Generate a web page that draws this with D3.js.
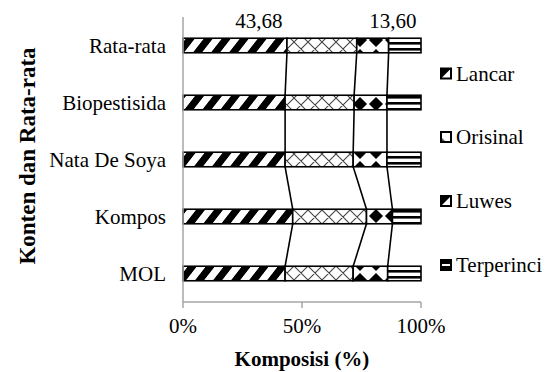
<!DOCTYPE html>
<html><head><meta charset="utf-8">
<script src="https://cdn.jsdelivr.net/npm/d3@7"></script>
<style>body{margin:0;background:#fff}svg{display:block}</style>
</head><body>
<script>
const categories = ["MOL", "Kompos", "Nata De Soya", "Biopestisida", "Rata-rata"];
const seriesNames = ["Lancar", "Orisinal", "Luwes", "Terperinci"];
const lancar     = [42.9, 46.1, 42.9, 42.9, 43.68];
const orisinal   = [28.6, 31.0, 28.6, 29.0, 29.32];
const luwes      = [14.5, 10.9, 14.2, 13.8, 13.40];
const terperinci = [14.0, 12.0, 14.3, 14.3, 13.60];
const xTicks = [0, 50, 100];
const labelledCategory = "Rata-rata";
const labelledSeries = ["Lancar", "Terperinci"];

const FONT = "Liberation Serif, 'Times New Roman', 'DejaVu Serif', serif";
const W = 552, H = 372;
const m = {left: 183, right: 131, top: 17, bottom: 70};
const svg = d3.select("body").append("svg").attr("width", W).attr("height", H)
  .attr("font-family", FONT).style("font-family", FONT);
const defs = svg.append("defs");

// patterns
const p1 = defs.append("pattern").attr("id","pLancar").attr("patternUnits","userSpaceOnUse")
  .attr("width",18).attr("height",18).attr("patternTransform","skewX(-38)");
p1.append("rect").attr("width",18).attr("height",18).attr("fill","#fff");
p1.append("rect").attr("x",0).attr("width",9).attr("height",18).attr("fill","#000");

const p2 = defs.append("pattern").attr("id","pOrisinal").attr("patternUnits","userSpaceOnUse")
  .attr("width",14).attr("height",14);
p2.append("rect").attr("width",14).attr("height",14).attr("fill","#fff");
p2.append("path").attr("d","M0,0L14,14M14,0L0,14M-1,13L1,15M13,-1L15,1M-1,1L1,-1M13,15L15,13")
  .attr("stroke","#444").attr("stroke-width",1.1);

const p3 = defs.append("pattern").attr("id","pLuwes").attr("patternUnits","userSpaceOnUse")
  .attr("width",16).attr("height",16);
p3.append("rect").attr("width",16).attr("height",16).attr("fill","#fff");
p3.append("path").attr("d","M8,1L15,8L8,15L1,8Z").attr("fill","#000");

const p4 = defs.append("pattern").attr("id","pTerperinci").attr("patternUnits","userSpaceOnUse")
  .attr("width",6).attr("height",6);
p4.append("rect").attr("width",6).attr("height",6).attr("fill","#fff");
p4.append("rect").attr("y",0).attr("width",6).attr("height",2.6).attr("fill","#000");

const fills = ["url(#pLancar)","url(#pOrisinal)","url(#pLuwes)","url(#pTerperinci)"];

const rows = categories.map((c,i)=>({cat:c, Lancar:lancar[i], Orisinal:orisinal[i], Luwes:luwes[i], Terperinci:terperinci[i]}));
const stack = d3.stack().keys(seriesNames)(rows);

const x = d3.scaleLinear().domain([0,100]).range([m.left, W - m.right]);
const y = d3.scaleBand().domain(categories.slice().reverse()).range([m.top, H - m.bottom])
  .paddingInner(0.745).paddingOuter(0.3725);

// series lines
const lines = svg.append("g");
stack.slice(0,3).forEach(s=>{
  for(let i=0;i<categories.length-1;i++){
    const lo = s[i], hi = s[i+1];
    lines.append("line")
      .attr("x1", x(lo[1])).attr("y1", y(categories[i]))
      .attr("x2", x(hi[1])).attr("y2", y(categories[i+1]) + y.bandwidth())
      .attr("stroke","#000").attr("stroke-width",1.6);
  }
});

// bars
stack.forEach((s,k)=>{
  svg.append("g").selectAll("rect").data(s).join("rect")
    .attr("x", d=>x(d[0])).attr("y", d=>y(d.data.cat))
    .attr("width", d=>x(d[1])-x(d[0])).attr("height", y.bandwidth())
    .attr("fill", fills[k]).attr("stroke","#000").attr("stroke-width",1.6);
});

// value labels
const loc = d3.formatLocale({decimal:",", thousands:".", grouping:[3], currency:["",""]});
const fmt = loc.format(".2f");
stack.forEach(s=>{
  if(!labelledSeries.includes(s.key)) return;
  const d = s.find(d=>d.data.cat===labelledCategory);
  svg.append("text").attr("x", x(d[1]) - 4.5).attr("y", y(labelledCategory) - 10)
    .attr("text-anchor","end").attr("font-size",21).text(fmt(d.data[s.key]));
});

// axes
const axisColor = "#a6a6a6";
const axisY = H - m.bottom;
const xa = svg.append("g").attr("transform",`translate(0,${axisY})`);
xa.append("line").attr("x1",x(0)).attr("x2",x(100)).attr("stroke",axisColor).attr("stroke-width",1.5);
xa.selectAll("line.t").data(xTicks).join("line").attr("class","t")
  .attr("x1",d=>x(d)).attr("x2",d=>x(d)).attr("y1",0).attr("y2",6)
  .attr("stroke",axisColor).attr("stroke-width",1.5);
xa.selectAll("text").data(xTicks).join("text")
  .attr("x",d=>x(d)).attr("y",31).attr("text-anchor","middle").attr("font-size",21)
  .text(d=>d+"%");
svg.append("line").attr("x1",x(0)).attr("x2",x(0)).attr("y1",m.top).attr("y2",axisY)
  .attr("stroke",axisColor).attr("stroke-width",1.5);

// category labels
svg.append("g").selectAll("text").data(categories).join("text")
  .attr("x", x(0) - 17).attr("y", d=>y(d)+y.bandwidth()/2).attr("dy","0.35em")
  .attr("text-anchor","end").attr("font-size",21).text(d=>d);

// titles
svg.append("text").attr("x", (x(0)+x(100))/2).attr("y", 366).attr("text-anchor","middle")
  .attr("font-size",21).attr("font-weight","bold").text("Komposisi (%)");
svg.append("text").attr("transform","translate(35,156) rotate(-90)").attr("text-anchor","middle")
  .attr("font-size",23).attr("font-weight","bold").text("Konten dan Rata-rata");

// legend
const lg = svg.append("g");
const legBase = [80.5, 144, 208, 272];
seriesNames.forEach((n,i)=>{
  const g = lg.append("g").attr("transform",`translate(441,${legBase[i]-12})`);
  g.append("rect").attr("width",10).attr("height",10).attr("fill","#fff");
  if(i===0) g.append("path").attr("d","M0,0H10L0,10Z").attr("fill","#000");
  if(i===1) g.append("path").attr("d","M0,5L5,10H0Z").attr("fill","#555");
  if(i===2) g.append("path").attr("d","M0,0H10L0,10Z").attr("fill","#000");
  if(i===3){ g.append("rect").attr("width",10).attr("height",10).attr("fill","#000");
    g.append("rect").attr("x",1).attr("y",4).attr("width",8).attr("height",2).attr("fill","#fff"); }
  g.append("rect").attr("width",10).attr("height",10).attr("fill","none").attr("stroke","#000").attr("stroke-width",2);
  lg.append("text").attr("x",456).attr("y",legBase[i]).attr("font-size",21).text(n);
});
</script>
</body></html>
